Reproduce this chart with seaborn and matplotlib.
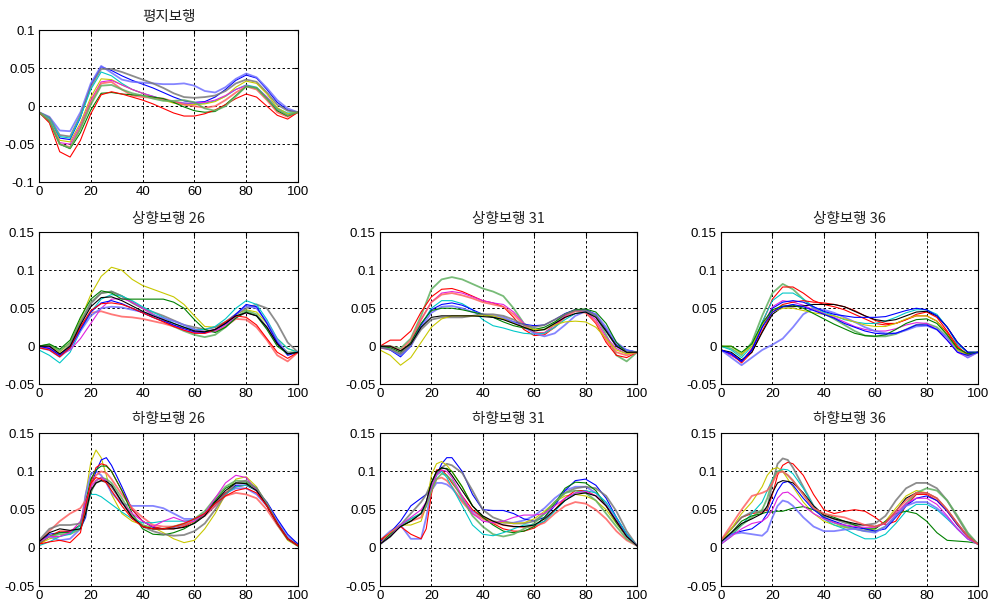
import numpy as np
import pandas as pd
import matplotlib
matplotlib.use("Agg")
import matplotlib.pyplot as plt
import seaborn as sns

# gait-cycle sample positions (%)
X_UP = [0, 4, 8, 12, 16, 20, 24, 28, 32, 36, 40, 44, 48, 52, 56, 60, 64, 68, 72, 76, 80, 84, 88, 92, 96, 100]
X_DOWN = [0, 4, 8, 12, 16, 18, 20, 22, 24, 26, 28, 32, 36, 40, 44, 48, 52, 56, 60, 64, 68, 72, 76, 80, 84, 88, 92, 96, 100]

# line colours (MATLAB-ish), pale ones are drawn thicker
COLOR_MAP = {
    'b': '#0000ff', 'lb': '#7070ff', 'g': '#008000', 'lg': '#60b060',
    'r': '#ff0000', 'lr': '#ff6060', 'c': '#00c8c8', 'm': '#e020e0',
    'y': '#c8c800', 'k': '#000000', 'gr': '#787878',
}
PALE = {'lb', 'lg', 'lr', 'gr'}

# values below are in units of 1e-3
flat_colors = ['b', 'lb', 'gr', 'c', 'y', 'm', 'lr', 'g', 'r', 'lg']
flat_curves = [
    [-8, -16, -42, -44, -15, 28, 52, 47, 40, 34, 29, 24, 18, 12, 7, 5, 6, 12, 22, 34, 41, 37, 22, 5, -5, -8],
    [-8, -14, -32, -33, -8, 30, 53, 44, 35, 32, 31, 30, 29, 29, 30, 27, 20, 18, 25, 36, 43, 38, 24, 8, -3, -8],
    [-8, -15, -38, -40, -12, 25, 49, 49, 45, 40, 35, 30, 24, 17, 12, 11, 12, 14, 20, 30, 35, 32, 18, 2, -6, -8],
    [-8, -16, -40, -42, -14, 22, 45, 40, 30, 22, 17, 13, 9, 6, 4, 3, 4, 7, 13, 22, 28, 25, 12, -3, -9, -8],
    [-8, -18, -45, -47, -22, 12, 36, 35, 28, 22, 17, 12, 8, 4, 2, 2, 3, 6, 13, 25, 33, 30, 16, -2, -10, -8],
    [-8, -18, -48, -50, -25, 8, 32, 34, 28, 22, 17, 13, 9, 6, 4, 4, 5, 8, 14, 22, 27, 24, 12, -5, -12, -8],
    [-8, -20, -50, -54, -28, 5, 30, 32, 22, 14, 12, 11, 10, 6, 2, 0, -2, 0, 8, 18, 26, 22, 8, -8, -14, -8],
    [-8, -20, -50, -56, -35, -5, 17, 18, 16, 15, 14, 12, 10, 5, -1, -6, -8, -7, 2, 14, 26, 24, 10, -6, -13, -8],
    [-8, -22, -60, -67, -45, -10, 15, 19, 16, 12, 8, 3, -3, -9, -13, -13, -10, -5, 2, 10, 16, 12, 0, -12, -17, -8],
    [-8, -19, -50, -55, -30, 2, 27, 28, 22, 17, 14, 10, 7, 7, 8, 5, -3, -6, 0, 13, 26, 24, 10, -4, -12, -8],
]

up26_colors = ['y', 'lr', 'lg', 'gr', 'c', 'm', 'lb', 'b', 'g', 'r', 'k']
up26_curves = [
    [0, 2, -8, 5, 35, 68, 92, 104, 100, 88, 80, 75, 70, 65, 55, 40, 26, 25, 32, 42, 48, 45, 30, 10, -3, -8],
    [0, -3, -12, 0, 25, 44, 46, 42, 39, 38, 36, 33, 30, 26, 24, 22, 19, 20, 26, 36, 35, 25, 8, -12, -20, -8],
    [0, 2, -6, 5, 32, 58, 70, 72, 66, 58, 50, 42, 35, 26, 20, 15, 12, 15, 25, 38, 47, 42, 25, 3, -8, -8],
    [0, 0, -12, 2, 30, 56, 70, 72, 66, 57, 50, 45, 40, 34, 28, 25, 22, 25, 32, 42, 50, 55, 50, 30, 5, -8],
    [-5, -12, -22, -8, 20, 45, 62, 68, 66, 60, 52, 45, 38, 30, 25, 22, 22, 26, 36, 50, 60, 55, 35, 10, -3, -8],
    [0, -2, -12, -5, 10, 30, 50, 62, 63, 58, 50, 42, 35, 27, 21, 18, 17, 20, 28, 38, 44, 40, 25, 3, -10, -8],
    [-2, -5, -14, -3, 20, 40, 50, 52, 51, 48, 45, 41, 37, 33, 28, 22, 19, 22, 30, 42, 53, 50, 32, 8, -10, -8],
    [0, -3, -12, -2, 22, 45, 57, 60, 56, 50, 44, 38, 33, 28, 23, 19, 18, 22, 30, 42, 55, 52, 30, 5, -12, -8],
    [0, 3, -4, 8, 38, 62, 73, 70, 62, 62, 62, 62, 62, 58, 50, 35, 22, 18, 25, 37, 45, 40, 22, 0, -10, -8],
    [-2, -5, -14, -2, 25, 47, 56, 57, 55, 50, 44, 38, 32, 26, 21, 17, 17, 22, 32, 40, 38, 28, 10, -8, -16, -8],
    [0, 0, -10, 0, 28, 52, 64, 65, 60, 53, 46, 40, 35, 30, 25, 20, 19, 22, 30, 40, 44, 40, 25, 3, -10, -8],
]

up31_colors = ['lg', 'r', 'm', 'lr', 'c', 'b', 'lb', 'g', 'gr', 'y', 'k']
up31_curves = [
    [0, 0, -3, 10, 40, 75, 88, 91, 88, 82, 76, 72, 66, 50, 30, 22, 22, 30, 42, 48, 48, 40, 15, -12, -20, -8],
    [0, 8, 8, 20, 45, 65, 75, 76, 72, 66, 60, 57, 52, 38, 22, 14, 15, 25, 40, 48, 45, 30, 5, -12, -15, -8],
    [-2, -5, -10, 5, 35, 58, 70, 72, 70, 65, 60, 57, 55, 45, 30, 18, 18, 28, 40, 47, 45, 35, 12, -3, -10, -8],
    [0, 0, -6, 8, 35, 58, 68, 70, 67, 63, 58, 55, 52, 42, 28, 18, 17, 25, 38, 46, 44, 32, 8, -8, -12, -8],
    [0, -4, -12, 2, 28, 50, 60, 60, 56, 48, 35, 27, 24, 20, 17, 16, 17, 25, 35, 43, 45, 40, 20, 0, -5, -8],
    [0, -5, -14, 0, 28, 48, 55, 57, 54, 48, 42, 38, 36, 32, 29, 27, 28, 35, 43, 48, 48, 42, 22, 2, -5, -8],
    [0, -4, -12, 0, 25, 44, 52, 53, 50, 45, 42, 40, 38, 32, 25, 17, 13, 17, 28, 40, 46, 42, 25, 5, -5, -8],
    [0, -2, -8, 5, 30, 47, 50, 50, 48, 45, 42, 38, 32, 27, 24, 22, 25, 32, 42, 48, 49, 45, 30, 5, -8, -8],
    [-2, -4, -10, 2, 22, 35, 38, 38, 38, 40, 42, 42, 40, 35, 28, 25, 28, 35, 42, 47, 47, 40, 20, 0, -8, -8],
    [-5, -12, -25, -15, 5, 25, 36, 40, 40, 40, 40, 40, 36, 30, 25, 22, 22, 28, 32, 33, 32, 25, 10, -5, -10, -8],
    [0, 0, -6, 3, 25, 38, 40, 40, 40, 40, 39, 38, 35, 30, 25, 20, 22, 30, 38, 43, 45, 38, 20, 0, -8, -8],
]

up36_colors = ['lg', 'r', 'c', 'm', 'r', 'k', 'lb', 'b', 'y', 'g', 'b']
up36_curves = [
    [0, -3, -12, 5, 40, 70, 82, 75, 62, 50, 43, 36, 28, 20, 14, 13, 13, 16, 22, 28, 30, 25, 12, -5, -12, -8],
    [-5, -12, -20, -3, 30, 62, 78, 78, 70, 60, 55, 52, 48, 42, 36, 30, 28, 30, 35, 40, 40, 33, 18, -2, -10, -8],
    [0, -5, -15, 0, 32, 60, 70, 70, 62, 52, 45, 40, 35, 32, 30, 30, 33, 38, 44, 48, 48, 42, 25, 2, -8, -8],
    [-5, -12, -20, -5, 25, 52, 60, 58, 54, 48, 43, 38, 32, 26, 22, 20, 20, 23, 28, 31, 30, 22, 8, -8, -15, -8],
    [-5, -10, -22, -8, 20, 45, 55, 58, 60, 58, 57, 55, 52, 47, 40, 34, 30, 30, 35, 42, 45, 38, 20, 0, -12, -8],
    [-5, -8, -18, -8, 18, 42, 52, 52, 53, 55, 55, 55, 52, 46, 40, 35, 33, 35, 40, 45, 46, 40, 25, 5, -8, -8],
    [-5, -15, -25, -15, -5, 2, 10, 25, 42, 50, 48, 44, 38, 32, 25, 20, 17, 17, 21, 26, 27, 22, 12, -5, -15, -8],
    [-5, -10, -20, -5, 25, 50, 58, 60, 58, 52, 46, 42, 40, 38, 38, 38, 39, 43, 47, 50, 48, 40, 25, 5, -8, -8],
    [0, 0, -10, 0, 28, 45, 50, 50, 47, 44, 42, 40, 36, 32, 28, 26, 26, 30, 36, 40, 40, 33, 15, -5, -12, -8],
    [0, 0, -8, 3, 30, 48, 53, 54, 50, 43, 36, 29, 23, 17, 14, 13, 15, 22, 30, 35, 36, 30, 15, -3, -10, -8],
    [-5, -10, -20, -5, 25, 45, 52, 55, 52, 47, 42, 37, 30, 25, 20, 17, 16, 17, 22, 28, 28, 22, 8, -8, -12, -8],
]

down26_colors = ['y', 'lb', 'b', 'r', 'lr', 'g', 'lg', 'c', 'm', 'gr', 'k', 'r']
down26_curves = [
    [5, 12, 15, 20, 30, 70, 112, 128, 118, 95, 70, 45, 35, 30, 27, 20, 12, 7, 10, 25, 45, 70, 90, 93, 80, 55, 30, 10, 2],
    [10, 15, 10, 12, 25, 70, 97, 100, 95, 85, 72, 58, 55, 55, 55, 52, 45, 38, 38, 45, 60, 72, 78, 78, 70, 55, 35, 15, 5],
    [8, 18, 20, 22, 25, 40, 80, 100, 115, 118, 108, 80, 50, 35, 27, 25, 27, 30, 35, 42, 55, 70, 82, 82, 75, 60, 38, 18, 5],
    [5, 15, 22, 22, 30, 50, 85, 105, 110, 108, 100, 75, 50, 35, 28, 25, 25, 28, 35, 45, 58, 72, 80, 82, 75, 55, 32, 12, 3],
    [8, 22, 35, 45, 52, 62, 80, 95, 100, 98, 90, 70, 52, 40, 30, 28, 28, 30, 35, 42, 55, 68, 72, 70, 65, 50, 30, 12, 3],
    [7, 15, 20, 20, 30, 60, 90, 102, 107, 107, 100, 75, 45, 25, 18, 17, 20, 25, 33, 45, 62, 78, 85, 85, 78, 58, 32, 12, 3],
    [7, 15, 18, 18, 25, 45, 72, 88, 92, 90, 85, 65, 42, 30, 25, 25, 28, 32, 38, 48, 65, 80, 88, 87, 78, 58, 32, 12, 3],
    [3, 8, 15, 18, 30, 55, 70, 70, 67, 62, 57, 47, 38, 33, 33, 35, 35, 35, 37, 45, 58, 70, 80, 82, 75, 55, 32, 12, 3],
    [8, 15, 15, 20, 35, 60, 80, 88, 92, 88, 80, 60, 45, 35, 28, 35, 40, 35, 35, 45, 65, 85, 95, 92, 75, 55, 32, 12, 3],
    [10, 25, 30, 30, 32, 50, 75, 85, 88, 86, 80, 60, 40, 28, 22, 18, 16, 17, 22, 32, 50, 70, 85, 88, 78, 58, 32, 12, 3],
    [8, 20, 25, 23, 25, 45, 75, 85, 88, 87, 82, 60, 40, 28, 25, 25, 25, 27, 32, 42, 60, 75, 85, 84, 75, 55, 32, 12, 3],
    [5, 8, 10, 7, 20, 55, 85, 92, 90, 85, 75, 55, 38, 28, 25, 25, 28, 32, 38, 45, 58, 68, 75, 78, 72, 55, 32, 12, 3],
]

down31_colors = ['lb', 'b', 'gr', 'y', 'r', 'lr', 'g', 'lg', 'c', 'm', 'k']
down31_curves = [
    [10, 22, 30, 12, 12, 40, 75, 85, 85, 83, 78, 62, 48, 40, 35, 33, 33, 36, 42, 52, 65, 75, 80, 80, 72, 58, 38, 18, 3],
    [8, 20, 35, 55, 65, 70, 78, 95, 110, 118, 118, 100, 70, 50, 49, 49, 45, 38, 35, 40, 55, 75, 88, 90, 82, 65, 40, 18, 3],
    [5, 15, 30, 45, 60, 70, 85, 97, 105, 110, 108, 98, 75, 50, 40, 35, 32, 32, 35, 45, 60, 72, 78, 80, 78, 68, 48, 22, 3],
    [10, 20, 30, 30, 35, 55, 95, 110, 113, 108, 100, 80, 55, 40, 35, 33, 32, 33, 38, 48, 60, 68, 70, 68, 62, 50, 32, 15, 3],
    [10, 20, 28, 18, 12, 25, 70, 102, 102, 95, 85, 68, 50, 40, 32, 25, 22, 22, 26, 35, 50, 65, 75, 75, 68, 55, 35, 15, 3],
    [5, 20, 30, 35, 40, 55, 75, 90, 92, 88, 80, 60, 45, 38, 33, 30, 28, 27, 28, 33, 45, 55, 60, 58, 50, 38, 22, 10, 3],
    [5, 18, 28, 35, 45, 60, 85, 100, 104, 104, 100, 80, 55, 40, 30, 22, 20, 22, 28, 40, 58, 78, 86, 85, 75, 55, 33, 15, 3],
    [5, 15, 30, 38, 45, 55, 75, 90, 97, 95, 88, 65, 42, 28, 18, 15, 18, 25, 32, 45, 60, 72, 75, 72, 62, 45, 28, 12, 3],
    [5, 15, 30, 38, 45, 60, 80, 95, 100, 92, 80, 55, 30, 18, 16, 20, 25, 30, 30, 35, 48, 62, 72, 75, 72, 60, 40, 18, 3],
    [5, 15, 30, 40, 50, 60, 80, 95, 102, 100, 92, 68, 45, 35, 33, 35, 40, 43, 43, 45, 55, 65, 72, 74, 68, 55, 35, 15, 3],
    [5, 15, 28, 35, 45, 60, 85, 100, 105, 103, 95, 75, 55, 42, 35, 30, 28, 28, 30, 38, 50, 62, 70, 72, 68, 55, 35, 15, 3],
]

down36_colors = ['r', 'gr', 'y', 'c', 'lg', 'g', 'b', 'lb', 'm', 'k', 'lr']
down36_curves = [
    [10, 25, 40, 45, 47, 50, 70, 95, 108, 112, 110, 95, 70, 50, 45, 48, 50, 48, 40, 30, 35, 55, 70, 70, 62, 48, 30, 15, 5],
    [10, 25, 40, 47, 48, 52, 85, 110, 117, 115, 105, 80, 55, 42, 38, 33, 30, 30, 32, 42, 62, 78, 85, 85, 78, 62, 40, 18, 5],
    [8, 25, 45, 60, 80, 95, 103, 105, 100, 90, 80, 60, 45, 35, 30, 27, 25, 23, 25, 35, 52, 68, 75, 72, 65, 50, 32, 15, 5],
    [5, 15, 30, 45, 60, 75, 90, 100, 103, 102, 97, 78, 55, 38, 30, 25, 18, 12, 12, 18, 32, 48, 57, 57, 50, 38, 25, 12, 5],
    [8, 18, 30, 40, 50, 65, 88, 100, 100, 95, 88, 70, 52, 40, 33, 28, 25, 22, 22, 28, 42, 58, 72, 78, 75, 62, 42, 20, 5],
    [8, 20, 35, 42, 45, 47, 47, 48, 48, 50, 52, 54, 50, 45, 40, 35, 30, 25, 25, 35, 45, 48, 45, 35, 20, 10, 9, 8, 6],
    [8, 18, 22, 25, 35, 45, 60, 75, 85, 87, 82, 65, 50, 40, 35, 30, 27, 25, 22, 25, 40, 55, 65, 68, 62, 48, 30, 15, 5],
    [8, 18, 20, 18, 16, 22, 40, 55, 62, 60, 55, 40, 28, 22, 22, 24, 25, 22, 20, 28, 42, 55, 60, 60, 52, 40, 25, 12, 5],
    [5, 15, 25, 32, 35, 40, 50, 65, 72, 73, 68, 55, 45, 38, 33, 30, 28, 27, 27, 32, 45, 58, 65, 65, 57, 42, 25, 12, 5],
    [8, 20, 32, 38, 45, 55, 72, 85, 88, 87, 85, 72, 55, 43, 38, 35, 32, 30, 28, 33, 48, 65, 72, 72, 65, 50, 32, 15, 5],
    [10, 30, 50, 68, 72, 75, 85, 98, 100, 95, 88, 70, 52, 45, 42, 40, 35, 30, 28, 33, 48, 62, 72, 72, 65, 50, 32, 15, 5],
]

Y_FLAT = [-0.1, -0.05, 0, 0.05, 0.1]
Y_FLAT_LABELS = ['-0.1', '-0.05', '0', '0.05', '0.1']
Y_STAIR = [-0.05, 0, 0.05, 0.1, 0.15]
Y_STAIR_LABELS = ['-0.05', '0', '0.05', '0.1', '0.15']
X_TICKS = [0, 20, 40, 60, 80, 100]

sns.set_style("white")
plt.rcParams['font.family'] = ['Liberation Sans', 'DejaVu Sans']
TITLE_FONT = ['Noto Sans CJK KR', 'DejaVu Sans']

fig = plt.figure(figsize=(9.9, 6.05), dpi=100)

# (title, x, curves, colours, yticks, labels, [left, bottom, width, height])
panels = [
    ('평지보행', X_UP, flat_curves, flat_colors, Y_FLAT, Y_FLAT_LABELS, [0.0394, 0.699, 0.2616, 0.251]),
    ('상향보행 26', X_UP, up26_curves, up26_colors, Y_STAIR, Y_STAIR_LABELS, [0.0394, 0.365, 0.2616, 0.251]),
    ('상향보행 31', X_UP, up31_curves, up31_colors, Y_STAIR, Y_STAIR_LABELS, [0.3838, 0.365, 0.2596, 0.251]),
    ('상향보행 36', X_UP, up36_curves, up36_colors, Y_STAIR, Y_STAIR_LABELS, [0.7283, 0.365, 0.2596, 0.251]),
    ('하향보행 26', X_DOWN, down26_curves, down26_colors, Y_STAIR, Y_STAIR_LABELS, [0.0394, 0.031, 0.2616, 0.253]),
    ('하향보행 31', X_DOWN, down31_curves, down31_colors, Y_STAIR, Y_STAIR_LABELS, [0.3838, 0.031, 0.2596, 0.253]),
    ('하향보행 36', X_DOWN, down36_curves, down36_colors, Y_STAIR, Y_STAIR_LABELS, [0.7283, 0.031, 0.2596, 0.253]),
]

for title, xs, curves, colors, yticks, ylabels, pos in panels:
    ax = fig.add_axes(pos)
    for vals, code in zip(curves, colors):
        pale = code in PALE
        sns.lineplot(x=xs, y=np.array(vals) / 1000.0, ax=ax, color=COLOR_MAP[code],
                     linewidth=1.3 if pale else 0.8, alpha=0.85 if pale else 1.0,
                     estimator=None, legend=False)
    ax.set_xlim(0, 100)
    ax.set_ylim(yticks[0], yticks[-1])
    ax.set_xticks(X_TICKS)
    ax.set_xticklabels([str(t) for t in X_TICKS])
    ax.set_yticks(yticks)
    ax.set_yticklabels(ylabels)
    ax.set_xlabel('')
    ax.set_ylabel('')
    ax.grid(True, color='black', linestyle=(0, (2.5, 2.5)), linewidth=0.7)
    ax.tick_params(direction='in', length=3, labelsize=9.5, top=True, right=True, pad=3, colors='black')
    for s in ax.spines.values():
        s.set_color('black')
        s.set_linewidth(0.8)
    ax.set_title(title, fontsize=10.5, family=TITLE_FONT, pad=7, color='#222222')

fig.savefig('out.png', dpi=100, facecolor='white')
